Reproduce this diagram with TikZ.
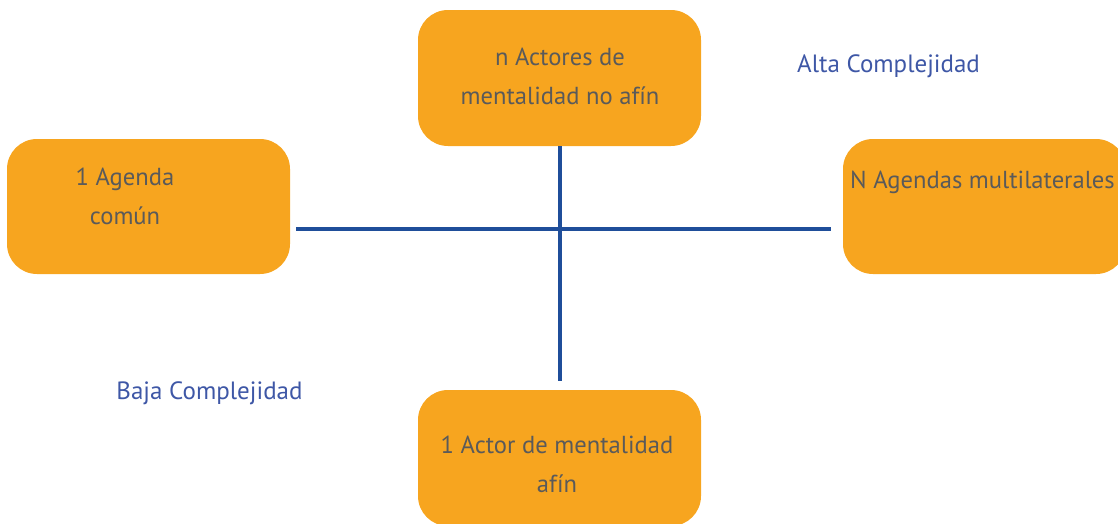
\documentclass[tikz,border=0pt]{standalone}
\usepackage{fontspec}
\setmainfont{PT Sans}
\definecolor{boxorange}{HTML}{F7A51F}
\definecolor{txtgray}{HTML}{5A5A5A}
\definecolor{axisblue}{HTML}{1F4E9A}
\definecolor{lblblue}{HTML}{3E57A6}
\begin{document}
\begin{tikzpicture}[x=1pt,y=-1pt,
  box/.style={fill=boxorange,draw=none,rounded corners=30pt,inner sep=0pt},
  txt/.style={text=txtgray,font=\fontsize{24.6}{39}\selectfont,align=center,inner sep=0pt},
  lbl/.style={text=lblblue,font=\fontsize{25}{28}\selectfont,inner sep=0pt},
  axis/.style={draw=axisblue,line width=4.5pt}]
\useasboundingbox (0,0) rectangle (1118,523);
\begin{scope}
\clip (0,0) rectangle (1118,523);
\node[box,minimum width=283pt,minimum height=136pt] (top) at (559.5,78) {};
\node[box,minimum width=283pt,minimum height=135pt] (left) at (148.5,206.5) {};
\node[box,minimum width=283pt,minimum height=135pt] (right) at (984.5,206.5) {};
\node[box,minimum width=283pt,minimum height=136pt] (bottom) at (559.5,458) {};
\end{scope}
\node[txt] (ttop) at (560,76.5) {n Actores de\\mentalidad no afín};
\node[txt] (tleft) at (125,196) {1 Agenda\\común};
\node[txt] (tright) at (982.5,182) {N Agendas multilaterales};
\node[txt] (tbottom) at (557,464) {1 Actor de mentalidad\\afín};
\node[lbl] (alta) at (888.5,66.5) {Alta Complejidad};
\node[lbl] (baja) at (209.5,393.5) {Baja Complejidad};
\coordinate (hl) at (296,229);
\coordinate (hr) at (831,229);
\coordinate (vt) at (560,146);
\coordinate (vb) at (560,381);
\draw[axis] (hl) -- (hr);
\draw[axis] (vt) -- (vb);
\end{tikzpicture}
\end{document}
